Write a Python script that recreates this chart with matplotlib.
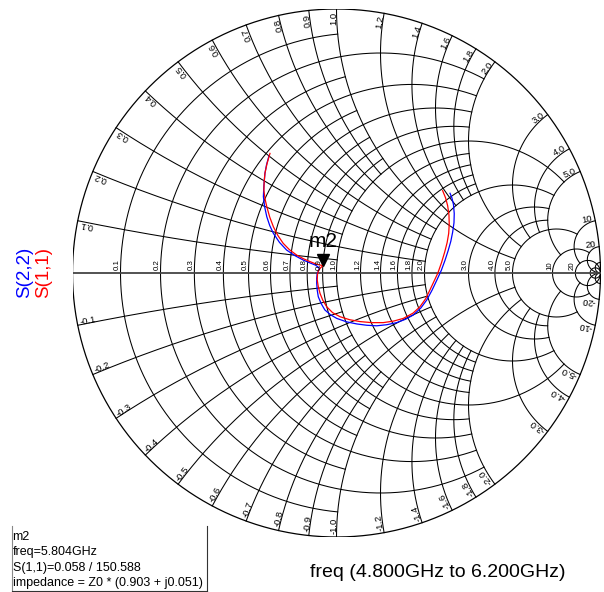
import numpy as np
import matplotlib.pyplot as plt
from matplotlib.transforms import offset_copy

plt.rcParams['font.family'] = ['Liberation Sans', 'DejaVu Sans']

# grid values (r circles and x arcs) and how far each one is drawn
grid_vals = [0.1, 0.2, 0.3, 0.4, 0.5, 0.6, 0.7, 0.8, 0.9, 1.0,
             1.2, 1.4, 1.6, 1.8, 2.0, 3.0, 4.0, 5.0, 10, 20, 50]
grid_lims = [1, 2, 1, 2, 1, 2, 1, 2, 1, 5,
             2, 2, 2, 2, 5, 5, 5, 10, 20, np.inf, np.inf]

# labelled values
label_vals = [0.1, 0.2, 0.3, 0.4, 0.5, 0.6, 0.7, 0.8, 0.9, 1.0,
              1.2, 1.4, 1.6, 1.8, 2.0, 3.0, 4.0, 5.0, 10, 20]
label_txt = ['0.1', '0.2', '0.3', '0.4', '0.5', '0.6', '0.7', '0.8', '0.9', '1.0',
             '1.2', '1.4', '1.6', '1.8', '2.0', '3.0', '4.0', '5.0', '10', '20']

s11_re = [-0.252, -0.263, -0.271, -0.274, -0.275, -0.271, -0.264, -0.253, -0.239, -0.222,
          -0.202, -0.178, -0.151, -0.125, -0.100, -0.080, -0.0625, -0.0505, -0.060, -0.068,
          -0.072, -0.073, -0.069, -0.0625, -0.052, -0.037, -0.015, 0.013, 0.050, 0.089,
          0.133, 0.177, 0.217, 0.253, 0.290, 0.316, 0.338, 0.354, 0.370, 0.384,
          0.398, 0.410, 0.419, 0.425, 0.427, 0.426, 0.421, 0.413, 0.402]
s11_im = [0.453, 0.415, 0.378, 0.345, 0.314, 0.282, 0.251, 0.212, 0.175, 0.142,
          0.1125, 0.088, 0.068, 0.054, 0.043, 0.035, 0.030, 0.0285, 0.020, 0.010,
          -0.005, -0.0265, -0.052, -0.077, -0.103, -0.128, -0.150, -0.1655, -0.177, -0.184,
          -0.188, -0.188, -0.182, -0.172, -0.152, -0.128, -0.097, -0.064, -0.030, 0.000,
          0.040, 0.080, 0.115, 0.150, 0.185, 0.220, 0.255, 0.285, 0.312]
s22_re = [-0.256, -0.265, -0.271, -0.275, -0.277, -0.272, -0.264, -0.253, -0.239, -0.216,
          -0.189, -0.158, -0.126, -0.100, -0.080, -0.066, -0.068, -0.073, -0.075, -0.075,
          -0.073, -0.069, -0.058, -0.044, -0.023, 0.001, 0.038, 0.077, 0.115, 0.152,
          0.190, 0.228, 0.262, 0.291, 0.320, 0.342, 0.362, 0.380, 0.397, 0.411,
          0.423, 0.433, 0.440, 0.445, 0.446, 0.443, 0.437, 0.430]
s22_im = [0.443, 0.410, 0.378, 0.333, 0.289, 0.250, 0.213, 0.180, 0.150, 0.116,
          0.087, 0.066, 0.049, 0.038, 0.030, 0.020, 0.008, -0.001, -0.020, -0.039,
          -0.065, -0.090, -0.116, -0.140, -0.158, -0.172, -0.185, -0.193, -0.198, -0.200,
          -0.196, -0.188, -0.175, -0.159, -0.132, -0.102, -0.065, -0.027, 0.010, 0.048,
          0.085, 0.120, 0.155, 0.190, 0.225, 0.260, 0.285, 0.302]

# marker m2 on S(1,1)
m2_mag = 0.058
m2_ang = 150.588
m2_lines = ['m2', 'freq=5.804GHz', 'S(1,1)=0.058 / 150.588',
            'impedance = Z0 * (0.903 + j0.051)']


def gam(z):
    return (z - 1) / (z + 1)


W, H = 604, 592
fig = plt.figure(figsize=(W / 100, H / 100), dpi=100)
cx, cy, R = 336.5, 273, 264
ax = fig.add_axes([(cx - R) / W, (H - cy - R) / H, 2 * R / W, 2 * R / H])
ax.set_xlim(-1, 1)
ax.set_ylim(-1, 1)
ax.axis('off')

gc = 'black'
glw = 0.75

# resistance circles
for v, L in zip(grid_vals, grid_lims):
    if np.isinf(L):
        x = np.tan(np.linspace(-np.pi / 2 + 1e-4, np.pi / 2 - 1e-4, 3000))
    else:
        x = np.linspace(-L, L, 3000)
    g = gam(v + 1j * x)
    ax.plot(g.real, g.imag, color=gc, lw=glw)

# reactance arcs
for v, L in zip(grid_vals, grid_lims):
    if np.isinf(L):
        r = np.tan(np.linspace(0, np.pi / 2 - 1e-4, 3000))
    else:
        r = np.linspace(0, L, 3000)
    for s in (1, -1):
        g = gam(r + 1j * s * v)
        ax.plot(g.real, g.imag, color=gc, lw=glw)

# outer circle and real axis
t = np.linspace(0, 2 * np.pi, 1000)
ax.plot(np.cos(t), np.sin(t), color=gc, lw=0.9)
ax.plot([-1, 1], [0, 0], color='#444444', lw=1.3)

# labels on the real axis
for v, s in zip(label_vals, label_txt):
    g = gam(v)
    ax.text(g.real - 0.006, 0.012, s, fontsize=5.7, rotation=90,
            rotation_mode='anchor', ha='left', va='baseline')

# labels on the rim
for v, s in zip(label_vals, label_txt):
    g = gam(1j * v)
    th = np.angle(g)
    p = 0.988 * g
    ax.text(p.real, p.imag, s, fontsize=6.8, rotation=np.degrees(th),
            rotation_mode='anchor', ha='right', va='baseline')
    gn = np.conj(g)
    pn = 0.988 * gn
    ax.text(pn.real, pn.imag, '-' + s, fontsize=6.8, rotation=np.degrees(-th) + 180,
            rotation_mode='anchor', ha='left', va='baseline')

# traces
ax.plot(s22_re, s22_im, color='blue', lw=0.9)
ax.plot(s11_re, s11_im, color='red', lw=0.9)

# marker
mre = m2_mag * np.cos(np.radians(m2_ang))
mim = m2_mag * np.sin(np.radians(m2_ang))
tr = offset_copy(ax.transData, fig=fig, x=0, y=5.5, units='dots')
ax.plot([mre], [mim], marker='v', color='black', markersize=8, transform=tr)
ax.annotate('m2', xy=(mre, mim), xytext=(0, 18), textcoords='offset pixels',
            ha='center', va='baseline', fontsize=15)

# trace names
fig.text(25 / W, 1 - 272 / H, 'S(2,2)', color='blue', rotation=90,
         ha='center', va='center', fontsize=13.5)
fig.text(44 / W, 1 - 272 / H, 'S(1,1)', color='red', rotation=90,
         ha='center', va='center', fontsize=13.5)

# marker readout box
for i, s in enumerate(m2_lines):
    fig.text(12.5 / W, 1 - (540 + 15.3 * i) / H, s, fontsize=9,
             ha='left', va='baseline')
fig.add_artist(plt.Line2D([11.5 / W, 11.5 / W], [1 - 526 / H, 1 - 591 / H],
                          color='#888888', lw=0.8))
fig.add_artist(plt.Line2D([207 / W, 207 / W], [1 - 526 / H, 1 - 591 / H],
                          color='#333333', lw=0.8))
fig.add_artist(plt.Line2D([11.5 / W, 207 / W], [1 - 591 / H, 1 - 591 / H],
                          color='#333333', lw=0.8))

fig.text(310 / W, 1 - 577 / H, 'freq (4.800GHz to 6.200GHz)', fontsize=14,
         ha='left', va='baseline')

fig.savefig('out.png', dpi=100)
